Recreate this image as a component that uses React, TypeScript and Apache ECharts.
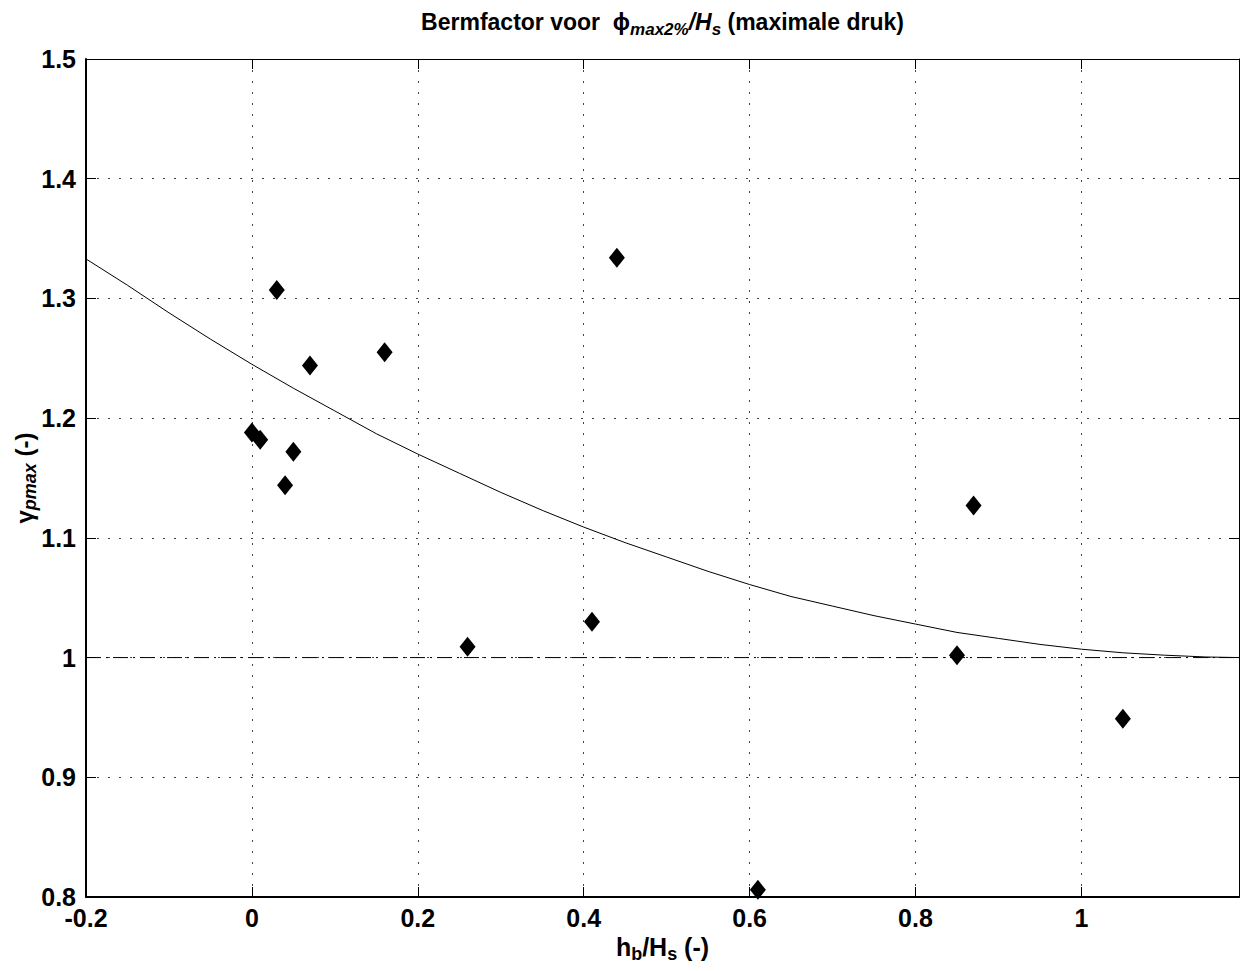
import React, { useEffect, useRef } from "react";
import * as echarts from "echarts";

// Measured points: h_b/H_s vs gamma_pmax
const hbValues = [0, 0.01, 0.03, 0.04, 0.05, 0.07, 0.16, 0.26, 0.41, 0.44, 0.61, 0.85, 0.87, 1.05];
const gammaValues = [1.188, 1.182, 1.307, 1.144, 1.172, 1.244, 1.255, 1.009, 1.03, 1.334, 0.806, 1.002, 1.127, 0.949];

// Fitted curve
const curveX = [-0.2, -0.15, -0.1, -0.05, 0, 0.05, 0.1, 0.15, 0.2, 0.25, 0.3, 0.35, 0.4, 0.45, 0.5, 0.55, 0.6, 0.65, 0.7, 0.75, 0.8, 0.85, 0.9, 0.95, 1.0, 1.05, 1.1, 1.15, 1.19];
const curveY = [1.333, 1.311, 1.288, 1.266, 1.245, 1.225, 1.206, 1.187, 1.17, 1.154, 1.138, 1.123, 1.109, 1.096, 1.084, 1.072, 1.061, 1.051, 1.043, 1.035, 1.028, 1.021, 1.016, 1.011, 1.007, 1.004, 1.002, 1.0005, 1.0];

// Reference line
const refX = [-0.2, 1.19];
const refY = [1, 1];

const xTicks = { min: -0.2, max: 1.19, interval: 0.2 };
const yTicks = { min: 0.8, max: 1.5, interval: 0.1 };

const FONT = "'Liberation Sans', Arial, Helvetica, sans-serif";

export default function App() {
  const ref = useRef<HTMLDivElement>(null);
  useEffect(() => {
    document.body.style.margin = "0";
    if (!ref.current) return;
    const chart = echarts.init(ref.current, undefined, { renderer: "svg" });
    const gridLeft = 86;
    const gridTop = 59;
    const gridW = 1153;
    const gridH = 838;
    const cx = gridLeft + gridW / 2;
    const tickLabel = { fontFamily: FONT, fontSize: 25, fontWeight: "bold" as const, color: "#000", lineHeight: 19 };
    chart.setOption({
      animation: false,
      backgroundColor: "#fff",
      grid: { left: gridLeft, top: gridTop, width: gridW, height: gridH, containLabel: false },
      xAxis: [
        {
          type: "value",
          min: xTicks.min,
          max: xTicks.max,
          interval: xTicks.interval,
          position: "bottom",
          axisLine: { show: true, onZero: false, lineStyle: { color: "#000", width: 2 } },
          axisTick: { show: true, inside: true, length: 10, lineStyle: { color: "#000", width: 1 } },
          axisLabel: { ...tickLabel, margin: 11, showMaxLabel: false },
          splitLine: { show: true, lineStyle: { color: "#444", width: 1, type: [2, 9] } },
        },
        {
          type: "value",
          min: xTicks.min,
          max: xTicks.max,
          interval: xTicks.interval,
          position: "top",
          axisLine: { show: true, onZero: false, lineStyle: { color: "#000", width: 1 } },
          axisTick: { show: true, inside: true, length: 10, lineStyle: { color: "#000", width: 1 } },
          axisLabel: { show: false },
          splitLine: { show: false },
        },
      ],
      yAxis: [
        {
          type: "value",
          min: yTicks.min,
          max: yTicks.max,
          interval: yTicks.interval,
          position: "left",
          axisLine: { show: true, onZero: false, lineStyle: { color: "#000", width: 2 } },
          axisTick: { show: true, inside: true, length: 10, lineStyle: { color: "#000", width: 1 } },
          axisLabel: { ...tickLabel, margin: 10 },
          splitLine: { show: true, lineStyle: { color: "#444", width: 1, type: [2, 9] } },
        },
        {
          type: "value",
          min: yTicks.min,
          max: yTicks.max,
          interval: yTicks.interval,
          position: "right",
          axisLine: { show: true, onZero: false, lineStyle: { color: "#000", width: 1 } },
          axisTick: { show: true, inside: true, length: 10, lineStyle: { color: "#000", width: 1 } },
          axisLabel: { show: false },
          splitLine: { show: false },
        },
      ],
      series: [
        {
          type: "line",
          data: refX.map((x, i) => [x, refY[i]]),
          showSymbol: false,
          symbol: "none",
          lineStyle: { color: "#000", width: 1, type: [15, 5, 2, 5] },
          silent: true,
          z: 2,
        },
        {
          type: "line",
          data: curveX.map((x, i) => [x, curveY[i]]),
          showSymbol: false,
          symbol: "none",
          smooth: false,
          lineStyle: { color: "#000", width: 1 },
          silent: true,
          z: 3,
        },
        {
          type: "scatter",
          data: hbValues.map((x, i) => [x, gammaValues[i]]),
          symbol: "diamond",
          symbolSize: [16, 20],
          itemStyle: { color: "#000", opacity: 1 },
          clip: false,
          z: 4,
        },
      ],
      graphic: [
        {
          type: "text",
          x: cx,
          y: 22,
          style: {
            text: "{n|Bermfactor voor  ϕ}{s|max2%}{i|/H}{s|s}{n| (maximale druk)}",
            align: "center",
            verticalAlign: "middle",
            fill: "#000",
            rich: {
              n: { fontFamily: FONT, fontSize: 23, fontWeight: "bold", fill: "#000", color: "#000" },
              i: { fontFamily: FONT, fontSize: 23, fontWeight: "bold", fontStyle: "italic", fill: "#000", color: "#000" },
              s: { fontFamily: FONT, fontSize: 17, fontWeight: "bold", fontStyle: "italic", fill: "#000", color: "#000", padding: [14, 0, 0, 0] },
            },
          },
        },
        {
          type: "text",
          x: cx,
          y: 947,
          style: {
            text: "{n|h}{s|b}{n|/H}{s|s}{n| (-)}",
            align: "center",
            verticalAlign: "middle",
            fill: "#000",
            rich: {
              n: { fontFamily: FONT, fontSize: 25, fontWeight: "bold", fill: "#000", color: "#000" },
              s: { fontFamily: FONT, fontSize: 18, fontWeight: "bold", fill: "#000", color: "#000", padding: [14, 0, 0, 0] },
            },
          },
        },
        {
          type: "text",
          x: 24,
          y: gridTop + gridH / 2,
          rotation: Math.PI / 2,
          style: {
            text: "{n|γ}{s|pmax}{n| (-)}",
            align: "center",
            verticalAlign: "middle",
            fill: "#000",
            rich: {
              n: { fontFamily: FONT, fontSize: 24, fontWeight: "bold", fill: "#000", color: "#000" },
              s: { fontFamily: FONT, fontSize: 18, fontStyle: "italic", fontWeight: "bold", fill: "#000", color: "#000", padding: [12, 0, 0, 0] },
            },
          },
        },
      ],
    });
    return () => chart.dispose();
  }, []);
  return <div ref={ref} style={{ width: 1240, height: 971 }} />;
}
